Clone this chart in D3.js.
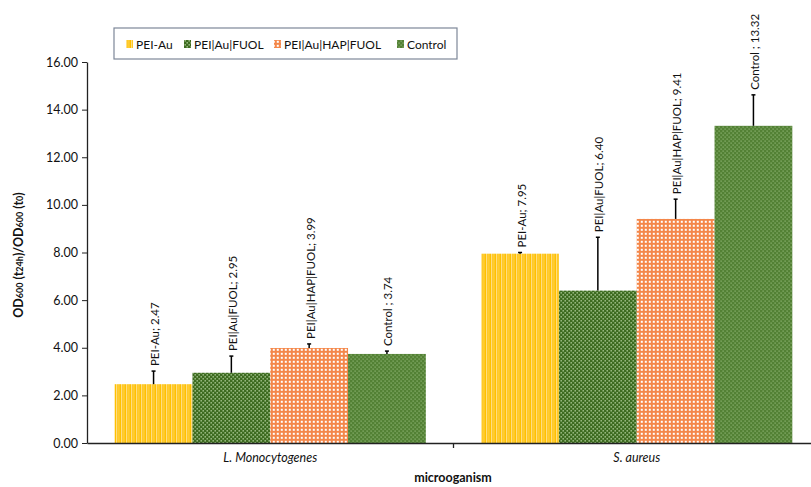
<!DOCTYPE html>
<html><head><meta charset="utf-8">
<script src="https://cdn.jsdelivr.net/npm/d3@7"></script>
<style>body{margin:0;background:#fff}svg{display:block}text{font-family:Lato,"Open Sans",sans-serif}</style>
</head><body>
<svg id="c" width="811" height="487"></svg>
<script>
const categories = ["L. Monocytogenes", "S. aureus"];
const series = ["PEI-Au", "PEI|Au|FUOL", "PEI|Au|HAP|FUOL", "Control"];
const labelNames = ["PEI-Au", "PEI|Au|FUOL", "PEI|Au|HAP|FUOL", "Control "];
const values = {
  "PEI-Au": [2.47, 7.95],
  "PEI|Au|FUOL": [2.95, 6.40],
  "PEI|Au|HAP|FUOL": [3.99, 9.41],
  "Control": [3.74, 13.32]
};
const errors = {
  "PEI-Au": [0.55, 0.05],
  "PEI|Au|FUOL": [0.70, 2.24],
  "PEI|Au|HAP|FUOL": [0.17, 0.83],
  "Control": [0.12, 1.30]
};
const yTicks = [0, 2, 4, 6, 8, 10, 12, 14, 16];

const svg = d3.select("#c");
const defs = svg.append("defs");
function pat(id, w, h, base, rects, col) {
  const p = defs.append("pattern").attr("id", id).attr("patternUnits", "userSpaceOnUse")
    .attr("width", w).attr("height", h);
  p.append("rect").attr("width", w).attr("height", h).attr("fill", base);
  rects.forEach(r => p.append("rect").attr("x", r[0]).attr("y", r[1]).attr("width", r[2]).attr("height", r[3]).attr("fill", col));
}
pat("p0", 5, 4, "#FFC000", [[1, 0, 1.3, 4], [3.6, 0, 0.7, 4]], "#FFDE80");
pat("p1", 4, 4, "#3D6B20", [[0.5, 0, 1.4, 1.6], [2.5, 2, 1.4, 1.6]], "#9DBE86");
pat("p2", 4, 4, "#F4874A", [[0.8, 0.8, 2, 2]], "#FFFFFF");
pat("p3", 4, 4, "#538135", [[0.5, 0.5, 1.2, 1.2], [2.5, 2.5, 1.2, 1.2]], "#93B977");
const fills = {"PEI-Au": "url(#p0)", "PEI|Au|FUOL": "url(#p1)", "PEI|Au|HAP|FUOL": "url(#p2)", "Control": "url(#p3)"};

const x0 = d3.scaleBand().domain(categories).range([87, 820]).paddingInner(0.151).paddingOuter(0.0755);
const x1 = d3.scaleBand().domain(series).range([0, x0.bandwidth()]);
const y = d3.scaleLinear().domain([0, 16]).range([443, 62]);

const data = [];
categories.forEach((c, ci) => series.forEach((s, si) => data.push({c, s, si, v: values[s][ci], e: errors[s][ci]})));
const g = svg.append("g");
g.selectAll("rect.bar").data(data).join("rect").attr("class", "bar")
  .attr("x", d => x0(d.c) + x1(d.s)).attr("width", x1.bandwidth())
  .attr("y", d => y(d.v)).attr("height", d => y(0) - y(d.v))
  .attr("fill", d => fills[d.s]);

const cx = d => x0(d.c) + x1(d.s) + x1.bandwidth() / 2;
g.selectAll("line.err").data(data).join("line").attr("class", "err")
  .attr("x1", cx).attr("x2", cx).attr("y1", d => y(d.v)).attr("y2", d => y(d.v + d.e))
  .attr("stroke", "#000").attr("stroke-width", 1.5);
g.selectAll("line.cap").data(data).join("line").attr("class", "cap")
  .attr("x1", d => cx(d) - 2).attr("x2", d => cx(d) + 2).attr("y1", d => y(d.v + d.e)).attr("y2", d => y(d.v + d.e))
  .attr("stroke", "#000").attr("stroke-width", 1.5);

g.selectAll("text.lab").data(data).join("text").attr("class", "lab")
  .attr("transform", d => `translate(${cx(d) + 1},${y(d.v + d.e) - 5}) rotate(-90)`)
  .attr("dominant-baseline", "central").attr("font-size", 11.5).attr("fill", "#111")
  .text(d => `${labelNames[d.si]}; ${d.v.toFixed(2)}`);

const ya = svg.append("g").attr("transform", "translate(87,0)")
  .call(d3.axisLeft(y).tickValues(yTicks).tickFormat(d3.format(".2f")).tickSize(5).tickSizeOuter(0));
ya.select(".domain").attr("stroke", "#222").attr("stroke-width", 1.3);
ya.selectAll(".tick line").attr("stroke", "#222");
ya.selectAll(".tick text").attr("font-family", "Lato, sans-serif").attr("font-size", 12.5).attr("fill", "#111").attr("x", -9);

const xa = svg.append("g").attr("transform", "translate(0,443)")
  .call(d3.axisBottom(x0).tickSize(0).tickSizeOuter(0));
xa.select(".domain").attr("stroke", "#222").attr("stroke-width", 1.3);
xa.selectAll(".tick text").attr("font-family", "Lato, sans-serif").attr("font-size", 12.5).attr("font-style", "italic")
  .attr("fill", "#111").attr("dy", "1.25em");
svg.append("line").attr("x1", x0.range()[0] + x0.step()).attr("x2", x0.range()[0] + x0.step())
  .attr("y1", 443).attr("y2", 448).attr("stroke", "#222").attr("stroke-width", 1.3);

svg.append("text").attr("x", 453).attr("y", 482).attr("text-anchor", "middle")
  .attr("font-size", 12.5).attr("font-weight", "bold").attr("fill", "#111").text("microoganism");
const yt = svg.append("text").attr("transform", "translate(23,255) rotate(-90)").attr("text-anchor", "middle")
  .attr("font-size", 12.5).attr("font-weight", "bold").attr("fill", "#111");
[["OD", 0], ["600", 1], [" (t", 0], ["24h", 1], [")/OD", 0], ["600", 1], [" (t", 0], ["0", 1], [")", 0]].forEach(p => {
  yt.append("tspan").attr("font-size", p[1] ? 9 : 12.5).text(p[0]);
});

const lg = svg.append("g");
lg.append("rect").attr("x", 114).attr("y", 28).attr("width", 343).attr("height", 31)
  .attr("fill", "#fff").attr("stroke", "#7d8798").attr("stroke-width", 1.2);
const legX = [126, 184, 274, 397];
series.forEach((s, i) => {
  lg.append("rect").attr("x", legX[i]).attr("y", 40).attr("width", 7).attr("height", 8).attr("fill", fills[s]);
  lg.append("text").attr("x", legX[i] + 10).attr("y", 48.5).attr("font-size", 12).attr("fill", "#111").text(s);
});
</script>
</body></html>
